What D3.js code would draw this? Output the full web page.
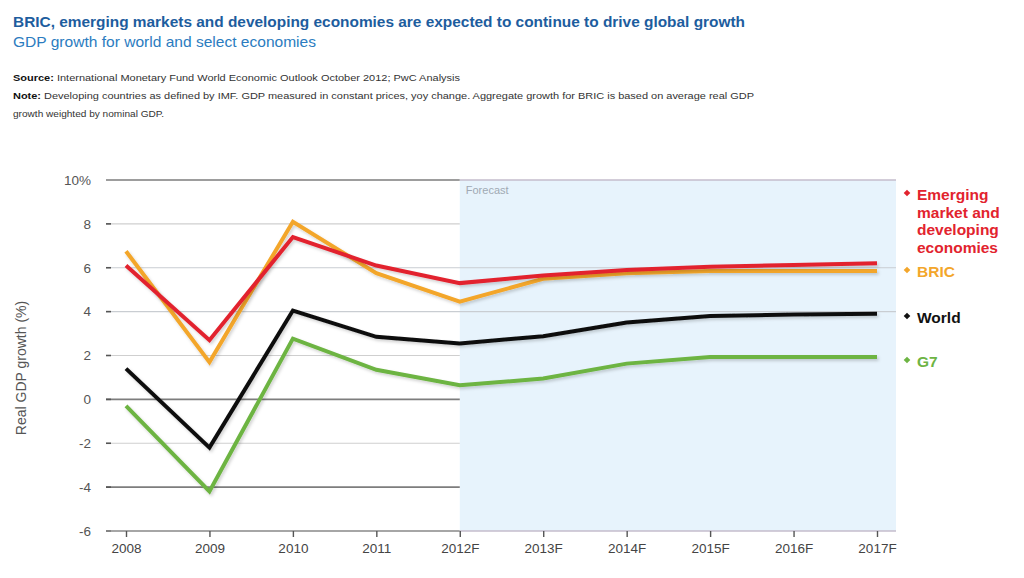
<!DOCTYPE html>
<html>
<head>
<meta charset="utf-8">
<script src="https://cdn.jsdelivr.net/npm/d3@7"></script>
<style>
  html, body { margin: 0; padding: 0; background: #fff; }
  svg { display: block; font-family: "Liberation Sans", Arial, Helvetica, sans-serif; }
</style>
</head>
<body>
<svg id="chart" width="1024" height="578"></svg>
<script>
// ---- data ----
const years = ["2008", "2009", "2010", "2011", "2012F", "2013F", "2014F", "2015F", "2016F", "2017F"];
const emerging = [6.1, 2.7, 7.4, 6.1, 5.3, 5.65, 5.9, 6.05, 6.12, 6.2];
const bric     = [6.75, 1.7, 8.1, 5.75, 4.45, 5.5, 5.75, 5.85, 5.85, 5.85];
const world    = [1.4, -2.2, 4.05, 2.85, 2.55, 2.88, 3.5, 3.8, 3.87, 3.9];
const g7       = [-0.3, -4.2, 2.77, 1.35, 0.64, 0.95, 1.63, 1.93, 1.93, 1.93];
const yTicks = [-6, -4, -2, 0, 2, 4, 6, 8, 10];
const yTickLabels = ["-6", "-4", "-2", "0", "2", "4", "6", "8", "10%"];
const forecastStart = "2012F";

const seriesNames = ["Emerging market and developing economies", "BRIC", "World", "G7"];
const seriesValues = [emerging, bric, world, g7];
const seriesColors = ["#e2232e", "#f3a62b", "#111111", "#6db443"];

(function () {
// ---- layout ----
const svg = d3.select("#chart");
const pLeft = 106, pRight = 896, pTop = 180, pBottom = 531;

const x = d3.scalePoint().domain(years).range([126, 877]);
const y = d3.scaleLinear().domain([-6, 10]).range([pBottom, pTop]);

// header texts
svg.append("text").attr("x", 13).attr("y", 27)
  .attr("font-size", 15.5).attr("font-weight", "bold").attr("fill", "#1d5d9e")
  .attr("textLength", 732).attr("lengthAdjust", "spacingAndGlyphs")
  .text("BRIC, emerging markets and developing economies are expected to continue to drive global growth");
svg.append("text").attr("x", 13).attr("y", 47)
  .attr("font-size", 14.5).attr("fill", "#2b7cc0")
  .attr("textLength", 303).attr("lengthAdjust", "spacingAndGlyphs")
  .text("GDP growth for world and select economies");

const src = svg.append("text").attr("x", 13).attr("y", 81).attr("font-size", 9.5).attr("fill", "#333")
  .attr("textLength", 447).attr("lengthAdjust", "spacingAndGlyphs");
src.append("tspan").attr("font-weight", "bold").attr("fill", "#111").text("Source: ");
src.append("tspan").text("International Monetary Fund World Economic Outlook October 2012; PwC Analysis");

const note = svg.append("text").attr("x", 13).attr("y", 99).attr("font-size", 9.5).attr("fill", "#333")
  .attr("textLength", 741).attr("lengthAdjust", "spacingAndGlyphs");
note.append("tspan").attr("font-weight", "bold").attr("fill", "#111").text("Note: ");
note.append("tspan").text("Developing countries as defined by IMF. GDP measured in constant prices, yoy change. Aggregate growth for BRIC is based on average real GDP");
svg.append("text").attr("x", 13).attr("y", 117).attr("font-size", 9.5).attr("fill", "#333")
  .attr("textLength", 151).attr("lengthAdjust", "spacingAndGlyphs")
  .text("growth weighted by nominal GDP.");

// forecast shading
const fx = x(forecastStart);
svg.append("rect").attr("x", fx).attr("y", pTop).attr("width", pRight - fx).attr("height", pBottom - pTop)
  .attr("fill", "#e7f3fc");
svg.append("text").attr("x", fx + 6).attr("y", pTop + 14).attr("font-size", 11).attr("fill", "#a0a9b3")
  .text("Forecast");

// gridlines
const darkTicks = new Set([10, 0, -4]);
const fullTicks = new Set([6, 4]);
const grid = svg.append("g");
yTicks.filter(t => t !== -6).forEach(t => {
  const dark = darkTicks.has(t);
  grid.append("line")
    .attr("x1", pLeft).attr("x2", fullTicks.has(t) ? pRight : fx)
    .attr("y1", y(t)).attr("y2", y(t))
    .attr("stroke", dark ? "#7d7d7d" : (fullTicks.has(t) ? "#c9cdd2" : "#cfcfcf"))
    .attr("stroke-width", dark ? 1.6 : 1.2);
});
// top border over forecast
svg.append("line").attr("x1", fx).attr("x2", pRight).attr("y1", y(10)).attr("y2", y(10))
  .attr("stroke", "#c4bccd").attr("stroke-width", 1.6);

// y axis labels
const yAxis = d3.axisLeft(y).tickValues(yTicks).tickSize(0).tickPadding(0)
  .tickFormat(d => yTickLabels[yTicks.indexOf(d)]);
const yg = svg.append("g").attr("transform", `translate(${pLeft - 15},0)`).call(yAxis);
yg.select(".domain").remove();
yg.selectAll("text").attr("font-size", 13.5).attr("fill", "#555").attr("font-family", null);
yTicks.filter(t => t !== 10).forEach(t => {
  svg.append("line").attr("x1", pLeft).attr("x2", pLeft + 5).attr("y1", y(t)).attr("y2", y(t))
    .attr("stroke", "#555").attr("stroke-width", 1.6);
});

// x axis
svg.append("line").attr("x1", pLeft).attr("x2", fx).attr("y1", pBottom).attr("y2", pBottom)
  .attr("stroke", "#888").attr("stroke-width", 1.6);
svg.append("line").attr("x1", fx).attr("x2", pRight).attr("y1", pBottom).attr("y2", pBottom)
  .attr("stroke", "#c4bccd").attr("stroke-width", 1.6);
const xAxis = d3.axisBottom(x).tickSize(6).tickPadding(6);
const xg = svg.append("g").attr("transform", `translate(0,${pBottom})`).call(xAxis);
xg.select(".domain").remove();
xg.selectAll(".tick line").attr("stroke", "#555").attr("stroke-width", 1.4);
xg.selectAll("text").attr("font-size", 13.5).attr("fill", "#444").attr("font-family", null);

// y title
svg.append("text").attr("transform", `translate(26,368) rotate(-90)`)
  .attr("text-anchor", "middle").attr("font-size", 14).attr("fill", "#555")
  .text("Real GDP growth (%)");

// shadow filter
const defs = svg.append("defs");
const f = defs.append("filter").attr("id", "shadow").attr("x", "-10%").attr("y", "-10%").attr("width", "120%").attr("height", "130%");
f.append("feDropShadow").attr("dx", 1.5).attr("dy", 2).attr("stdDeviation", 1.8)
  .attr("flood-color", "#000").attr("flood-opacity", 0.18);

// lines
const line = d3.line().x((d, i) => x(years[i])).y(d => y(d));
[3, 2, 1, 0].forEach(i => {
  svg.append("path").datum(seriesValues[i])
    .attr("d", line)
    .attr("fill", "none")
    .attr("stroke", seriesColors[i])
    .attr("stroke-width", 4)
    .attr("stroke-linejoin", "miter")
    .attr("filter", "url(#shadow)");
});

// legend
const legend = [
  { lines: ["Emerging", "market and", "developing", "economies"], y0: 194 },
  { lines: ["BRIC"], y0: 271 },
  { lines: ["World"], y0: 317 },
  { lines: ["G7"], y0: 361 }
];
legend.forEach((l, i) => {
  svg.append("path")
    .attr("d", d3.symbol().type(d3.symbolSquare).size(22)())
    .attr("transform", `translate(907,${l.y0 - 1}) rotate(45)`)
    .attr("fill", seriesColors[i]);
  const t = svg.append("text").attr("x", 917).attr("y", l.y0 + 6)
    .attr("font-size", 15.5).attr("font-weight", "bold").attr("fill", seriesColors[i]);
  l.lines.forEach((s, k) => {
    t.append("tspan").attr("x", 917).attr("dy", k === 0 ? 0 : 17.5).text(s);
  });
});
})();
</script>
</body>
</html>
